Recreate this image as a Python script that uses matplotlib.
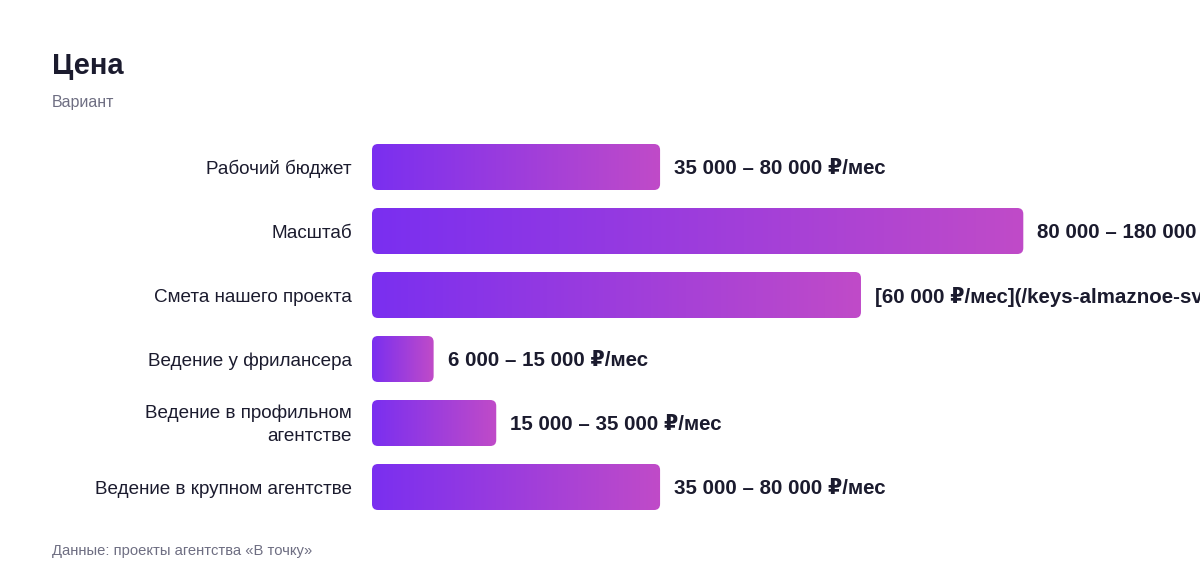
import numpy as np
import matplotlib
matplotlib.use('Agg')
import matplotlib.pyplot as plt
from matplotlib.colors import LinearSegmentedColormap
from matplotlib.patches import FancyBboxPatch

# данные
categories = ['Рабочий бюджет', 'Масштаб', 'Смета нашего проекта',
              'Ведение у фрилансера', 'Ведение в профильном\nагентстве',
              'Ведение в крупном агентстве']
values = [57500, 130000, 97600, 12300, 24800, 57500]
value_labels = ['35 000 – 80 000 ₽/мес', '80 000 – 180 000 ₽/мес',
                '[60 000 ₽/мес](/keys-almaznoe-svet)', '6 000 – 15 000 ₽/мес',
                '15 000 – 35 000 ₽/мес', '35 000 – 80 000 ₽/мес']
title = 'Цена'
subtitle = 'Вариант'
footer = 'Данные: проекты агентства «В точку»'

plt.rcParams['font.family'] = ['Liberation Sans', 'DejaVu Sans']

W, H = 1200, 584
fig = plt.figure(figsize=(W / 100, H / 100), dpi=100)

# оси: от 372 px до правого края, по вертикали 135..519 px
ax = fig.add_axes([372 / W, 1 - 519 / H, (W - 372) / W, 384 / H])
xmax = (W - 372) / 0.00501
ax.set_xlim(0, xmax)
ax.set_ylim(len(categories) - 0.5, -0.5)
ax.axis('off')

cmap = LinearSegmentedColormap.from_list('grad', ['#7a2ff0', '#c04bc8'])
grad = np.linspace(0, 1, 256).reshape(1, -1)

# масштаб пикселей для скругления углов
x_per_px = xmax / (W - 372)
y_per_px = len(categories) / 384
bar_h = 46 * y_per_px
dy = 2 * y_per_px  # небольшой сдвиг подписей вниз

for i, (v, lab) in enumerate(zip(values, value_labels)):
    y0 = i - bar_h / 2
    patch = FancyBboxPatch((0, y0), v, bar_h,
                           boxstyle='round,pad=0,rounding_size=%f' % (6 * x_per_px),
                           mutation_aspect=y_per_px / x_per_px,
                           facecolor='none', edgecolor='none')
    ax.add_patch(patch)
    im = ax.imshow(grad, cmap=cmap, extent=[0, v, i + bar_h / 2, y0],
                   aspect='auto', interpolation='bicubic')
    im.set_clip_path(patch)
    ax.text(v + 14 * x_per_px, i + dy, lab, ha='left', va='center',
            fontsize=14.8, fontweight='bold', color='#1b1b2e', clip_on=False)
    ax.text(-20 * x_per_px, i + dy, categories[i], ha='right', va='center',
            fontsize=13.6, color='#1b1b2e', clip_on=False, linespacing=1.45)

ax.set_xlim(0, xmax)
ax.set_ylim(len(categories) - 0.5, -0.5)

fig.text(52 / W, 1 - 66 / H, title, ha='left', va='center',
         fontsize=21, fontweight='bold', color='#1b1b2e')
fig.text(52 / W, 1 - 103 / H, subtitle, ha='left', va='center',
         fontsize=11.5, color='#6e6e82')
fig.text(52 / W, 1 - 551 / H, footer, ha='left', va='center',
         fontsize=10.6, color='#6e6e82')

fig.savefig('out.png', dpi=100, facecolor='white')
